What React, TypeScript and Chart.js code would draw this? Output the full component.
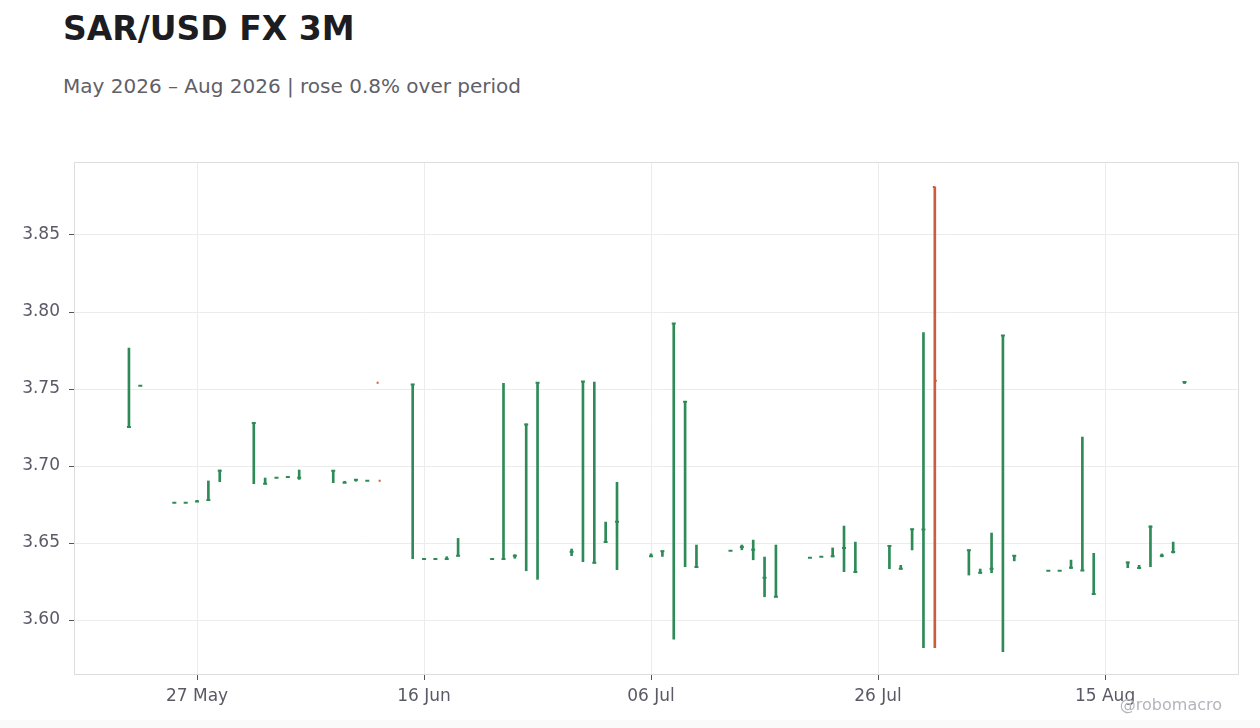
import { useEffect, useRef } from 'react';
import { Chart, registerables } from 'chart.js';

Chart.register(...registerables);

// daily OHLC, weekdays only (one odd print on 22 Aug)
const dates = [
    '2026-05-21', '2026-05-22', '2026-05-25', '2026-05-26', '2026-05-27', '2026-05-28', '2026-05-29',
    '2026-06-01', '2026-06-02', '2026-06-03', '2026-06-04', '2026-06-05',
    '2026-06-08', '2026-06-09', '2026-06-10', '2026-06-11', '2026-06-12',
    '2026-06-15', '2026-06-16', '2026-06-17', '2026-06-18', '2026-06-19',
    '2026-06-22', '2026-06-23', '2026-06-24', '2026-06-25', '2026-06-26',
    '2026-06-29', '2026-06-30', '2026-07-01', '2026-07-02', '2026-07-03',
    '2026-07-06', '2026-07-07', '2026-07-08', '2026-07-09', '2026-07-10',
    '2026-07-13', '2026-07-14', '2026-07-15', '2026-07-16', '2026-07-17',
    '2026-07-20', '2026-07-21', '2026-07-22', '2026-07-23', '2026-07-24',
    '2026-07-27', '2026-07-28', '2026-07-29', '2026-07-30', '2026-07-31',
    '2026-08-03', '2026-08-04', '2026-08-05', '2026-08-06', '2026-08-07',
    '2026-08-10', '2026-08-11', '2026-08-12', '2026-08-13', '2026-08-14',
    '2026-08-17', '2026-08-18', '2026-08-19', '2026-08-20', '2026-08-21', '2026-08-22',
];

const opens = [
    3.7253, 3.7521, 3.6762, 3.6762, 3.6769, 3.6780, 3.6970,
    3.7280, 3.6885, 3.6924, 3.6928, 3.6924,
    3.6970, 3.6892, 3.6910, 3.6905, 3.7541,
    3.7530, 3.6396, 3.6396, 3.6396, 3.6418,
    3.6396, 3.6396, 3.6418, 3.7270, 3.7540,
    3.6443, 3.7548, 3.6372, 3.6507, 3.6638,
    3.6414, 3.6446, 3.7925, 3.7418, 3.6344,
    3.6450, 3.6474, 3.6456, 3.6275, 3.6151,
    3.6405, 3.6411, 3.6414, 3.6468, 3.6312,
    3.6481, 3.6333, 3.6590, 3.6587, 3.8812,
    3.6453, 3.6307, 3.6333, 3.7847, 3.6417,
    3.6320, 3.6320, 3.6340, 3.6322, 3.6169,
    3.6373, 3.6338, 3.6606, 3.6418, 3.6442, 3.7545,
];

const highs = [
    3.7766, 3.7521, 3.6762, 3.6762, 3.6777, 3.6903, 3.6974,
    3.7281, 3.6922, 3.6924, 3.6933, 3.6974,
    3.6972, 3.6901, 3.6911, 3.6905, null,
    3.7531, 3.6396, 3.6396, 3.6411, 3.6530,
    3.6396, 3.7537, 3.6424, 3.7273, 3.7543,
    3.6461, 3.7550, 3.7545, 3.6636, 3.6894,
    3.6430, 3.6450, 3.7927, 3.7420, 3.6487,
    3.6450, 3.6487, 3.6519, 3.6409, 3.6487,
    3.6405, 3.6411, 3.6468, 3.6610, 3.6506,
    3.6483, 3.6355, 3.6591, 3.7866, 3.8812,
    3.6455, 3.6331, 3.6565, 3.7849, 3.6419,
    3.6320, 3.6320, 3.6389, 3.7188, 3.6433,
    3.6377, 3.6355, 3.6612, 3.6429, 3.6506, 3.7545,
];

const lows = [
    3.7253, 3.7521, 3.6762, 3.6762, 3.6769, 3.6779, 3.6898,
    3.6885, 3.6883, 3.6924, 3.6928, 3.6913,
    3.6892, 3.6892, 3.6901, 3.6905, null,
    3.6398, 3.6396, 3.6396, 3.6396, 3.6416,
    3.6396, 3.6396, 3.6401, 3.6320, 3.6264,
    3.6418, 3.6379, 3.6370, 3.6505, 3.6327,
    3.6411, 3.6413, 3.5875, 3.6346, 3.6342,
    3.6450, 3.6456, 3.6391, 3.6151, 3.6149,
    3.6405, 3.6411, 3.6410, 3.6314, 3.6310,
    3.6333, 3.6330, 3.6455, 3.5820, 3.5820,
    3.6292, 3.6303, 3.6307, 3.5794, 3.6384,
    3.6320, 3.6320, 3.6336, 3.6320, 3.6167,
    3.6340, 3.6333, 3.6346, 3.6410, 3.6435, 3.7535,
];

const closes = [
    3.7253, 3.7521, 3.6762, 3.6762, 3.6769, 3.6780, 3.6970,
    3.7280, 3.6885, 3.6924, 3.6928, 3.6924,
    3.6970, 3.6892, 3.6910, 3.6905, 3.6905,
    3.7530, 3.6396, 3.6396, 3.6396, 3.6418,
    3.6396, 3.6396, 3.6418, 3.7270, 3.7540,
    3.6443, 3.7548, 3.6372, 3.6507, 3.6638,
    3.6414, 3.6446, 3.7925, 3.7418, 3.6344,
    3.6450, 3.6474, 3.6456, 3.6275, 3.6151,
    3.6405, 3.6411, 3.6414, 3.6468, 3.6312,
    3.6481, 3.6333, 3.6590, 3.6587, 3.7554,
    3.6453, 3.6307, 3.6333, 3.7847, 3.6417,
    3.6320, 3.6320, 3.6340, 3.6322, 3.6169,
    3.6373, 3.6338, 3.6606, 3.6418, 3.6442, 3.7545,
];

const xTickDates = ['2026-05-27', '2026-06-16', '2026-07-06', '2026-07-26', '2026-08-15'];
const yTicks = [3.60, 3.65, 3.70, 3.75, 3.80, 3.85];
const monthNames = ['Jan', 'Feb', 'Mar', 'Apr', 'May', 'Jun', 'Jul', 'Aug', 'Sep', 'Oct', 'Nov', 'Dec'];

const UP = '#2e8b57';
const DOWN = '#cd5c3c';
const FONT = "'DejaVu Sans', sans-serif";

const toDay = (s: string) => {
    const [y, m, d] = s.split('-').map(Number);
    return Date.UTC(y, m - 1, d) / 86400000;
};

const dayLabel = (day: number) => {
    const dt = new Date(day * 86400000);
    return `${String(dt.getUTCDate()).padStart(2, '0')} ${monthNames[dt.getUTCMonth()]}`;
};

const days = dates.map(toDay);
const colors = opens.map((o, i) => (closes[i] >= o ? UP : DOWN));

// open tick on the left, close tick on the right
const ohlcTicks = {
    id: 'ohlcTicks',
    afterDatasetsDraw(chart: any) {
        const { ctx, chartArea, scales } = chart;
        ctx.save();
        ctx.beginPath();
        ctx.rect(chartArea.left, chartArea.top, chartArea.right - chartArea.left, chartArea.bottom - chartArea.top);
        ctx.clip();
        ctx.lineWidth = 2;
        days.forEach((d, i) => {
            const px = scales.x.getPixelForValue(d);
            ctx.strokeStyle = colors[i];
            const yo = scales.y.getPixelForValue(opens[i]);
            const yc = scales.y.getPixelForValue(closes[i]);
            ctx.beginPath();
            ctx.moveTo(px - 2, yo);
            ctx.lineTo(px, yo);
            ctx.moveTo(px, yc);
            ctx.lineTo(px + 2, yc);
            ctx.stroke();
        });
        ctx.restore();
    },
};

const frame = {
    id: 'frame',
    beforeDatasetsDraw(chart: any) {
        const { ctx, chartArea } = chart;
        ctx.save();
        ctx.strokeStyle = '#dddddd';
        ctx.lineWidth = 1;
        ctx.strokeRect(chartArea.left + 0.5, chartArea.top + 0.5,
            chartArea.right - chartArea.left - 1, chartArea.bottom - chartArea.top - 1);
        ctx.restore();
    },
};

export default function App() {
    const canvasRef = useRef<HTMLCanvasElement>(null);

    useEffect(() => {
        if (!canvasRef.current) return;

        const chart = new Chart(canvasRef.current, {
            type: 'bar',
            data: {
                datasets: [{
                    data: days.map((d, i) => ({
                        x: d,
                        y: highs[i] == null || highs[i] === lows[i] ? null : [lows[i], highs[i]],
                    })) as any,
                    backgroundColor: colors,
                    borderWidth: 0,
                    barThickness: 2,
                }],
            },
            options: {
                animation: false,
                responsive: true,
                maintainAspectRatio: false,
                layout: { padding: { top: 162, right: 21, left: 0, bottom: 0 } },
                plugins: {
                    legend: { display: false },
                    tooltip: { enabled: false },
                },
                scales: {
                    x: {
                        type: 'linear',
                        min: toDay('2026-05-27') - 10.84,
                        max: toDay('2026-08-15') + 11.8,
                        offset: false,
                        grid: { offset: false, color: '#ececec', tickColor: '#555555', tickLength: 5 },
                        border: { display: false },
                        ticks: {
                            color: '#5a5a66',
                            font: { family: FONT, size: 17 },
                            padding: 6,
                            maxRotation: 0,
                            callback: (v: any) => dayLabel(Number(v)),
                        },
                        afterBuildTicks: (s: any) => {
                            s.ticks = xTickDates.map(d => ({ value: toDay(d) }));
                        },
                        afterFit: (s: any) => {
                            s.height = 53;
                        },
                    },
                    y: {
                        min: 3.5643,
                        max: 3.8974,
                        grid: { color: '#ececec', tickColor: '#555555', tickLength: 5 },
                        border: { display: false },
                        ticks: {
                            color: '#5a5a66',
                            font: { family: FONT, size: 17 },
                            padding: 9,
                            callback: (v: any) => Number(v).toFixed(2),
                        },
                        afterBuildTicks: (s: any) => {
                            s.ticks = yTicks.map(v => ({ value: v }));
                        },
                        afterFit: (s: any) => {
                            s.width = 74;
                        },
                    },
                },
            },
            plugins: [frame, ohlcTicks],
        });

        return () => chart.destroy();
    }, []);

    return (
        <div style={{ position: 'absolute', left: 0, top: 0, width: 1260, height: 728, background: '#fafafa', fontFamily: FONT }}>
            <div style={{ position: 'absolute', left: 0, top: 0, width: 1260, height: 720, background: '#ffffff' }} />
            <div style={{ position: 'absolute', left: 63, top: 12, fontSize: 33, lineHeight: 1, fontWeight: 'bold', color: '#1c1c21', whiteSpace: 'nowrap' }}>
                SAR/USD FX 3M
            </div>
            <div style={{ position: 'absolute', left: 63, top: 76, fontSize: 20, lineHeight: 1, color: '#5f6068', whiteSpace: 'nowrap' }}>
                May 2026 – Aug 2026 | rose 0.8% over period
            </div>
            <div style={{ position: 'absolute', left: 0, top: 0, width: 1260, height: 728 }}>
                <canvas ref={canvasRef}></canvas>
            </div>
            <div style={{ position: 'absolute', right: 38, top: 697, fontSize: 16, lineHeight: 1, color: '#b4b4bc', whiteSpace: 'nowrap' }}>
                @robomacro
            </div>
        </div>
    );
}
